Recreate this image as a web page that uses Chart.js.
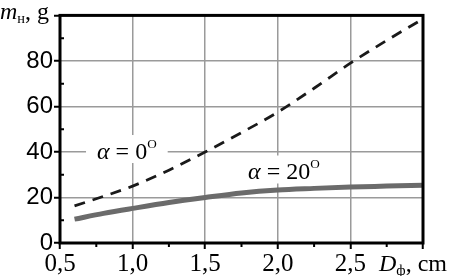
<!DOCTYPE html>
<html lang="en">
<head>
<meta charset="utf-8">
<title>m vs D</title>
<script src="https://cdn.jsdelivr.net/npm/chart.js"></script>
<style>
  body { margin: 0; background: #fff; }
</style>
</head>
<body>
<canvas id="myChart" width="453" height="276"></canvas>
<script>
// data
const diameters = [0.6, 0.8, 1.0, 1.25, 1.5, 1.75, 2.0, 2.25, 2.5, 2.75, 3.0];
const mass0 = [16.3, 20.5, 25, 32, 40, 48.5, 57.5, 68, 79, 89, 98.5];    // alpha = 0
const mass20 = [10.5, 13, 15.2, 17.8, 20, 22, 23.3, 24, 24.6, 25, 25.4]; // alpha = 20
const xTicks = [0.5, 1.0, 1.5, 2.0, 2.5, 3.0];
const yTicks = [0, 20, 40, 60, 80, 100];
const xMinor = [0.75, 1.25, 1.75, 2.25, 2.75];
const yMinor = [10, 30, 50, 70, 90];

const serif = '"Liberation Serif", "Times New Roman", serif';
const sans = '"Liberation Sans", Arial, sans-serif';

// draws text parts [text, italic, kind] left to right
function drawParts(ctx, parts, x, y, size) {
  parts.forEach(p => {
    let s = size, dy = 0;
    if (p[2] === 'sub') { s = size * 0.6; dy = 4; }
    if (p[2] === 'sup') { s = size * 0.55; dy = -11; }
    ctx.font = (p[1] ? 'italic ' : '') + s + 'px ' + serif;
    ctx.fillText(p[0], x, y + dy);
    x += ctx.measureText(p[0]).width;
  });
  return x;
}

const extras = {
  id: 'extras',
  afterDatasetsDraw(chart) {
    const ctx = chart.ctx, xs = chart.scales.x, ys = chart.scales.y;
    ctx.save();
    ctx.fillStyle = '#000';
    ctx.textBaseline = 'alphabetic';
    ctx.textAlign = 'left';
    // curve labels on white boxes
    const labels = [
      { x: 0.755, y: 36.9, parts: [['\u03b1', true], [' = 0'], ['O', false, 'sup']] },
      { x: 1.795, y: 27.9, parts: [['\u03b1', true], [' = 20'], ['O', false, 'sup']] }
    ];
    labels.forEach(l => {
      const px = xs.getPixelForValue(l.x), py = ys.getPixelForValue(l.y);
      ctx.fillStyle = '#fff';
      ctx.globalAlpha = 0;
      const end = drawParts(ctx, l.parts, px, py, 24);
      ctx.globalAlpha = 1;
      ctx.fillRect(px - 11, py - 24, end - px + 22, 28);
      ctx.fillStyle = '#000';
      drawParts(ctx, l.parts, px, py, 24);
    });
    ctx.restore();
  },
  afterDraw(chart) {
    const ctx = chart.ctx, a = chart.chartArea, xs = chart.scales.x, ys = chart.scales.y;
    ctx.save();
    // frame
    ctx.strokeStyle = '#000';
    ctx.lineWidth = 3;
    ctx.strokeRect(a.left, a.top, a.right - a.left, a.bottom - a.top);
    // minor ticks
    ctx.lineWidth = 2;
    ctx.beginPath();
    yMinor.forEach(v => {
      const py = ys.getPixelForValue(v);
      ctx.moveTo(a.left, py); ctx.lineTo(a.left + 4, py);
    });
    xMinor.forEach(v => {
      const px = xs.getPixelForValue(v);
      ctx.moveTo(px, a.bottom); ctx.lineTo(px, a.bottom + 4);
    });
    ctx.stroke();
    // axis titles
    ctx.fillStyle = '#000';
    ctx.textAlign = 'left';
    drawParts(ctx, [['m', true], ['\u043d', false, 'sub'], [', g']], 0, 19, 24);
    drawParts(ctx, [['D', true], ['\u0444', false, 'sub'], [', cm']], 379, 271, 24);
    ctx.restore();
  }
};

const gridColor = c => (c.tick.value === c.scale.min || c.tick.value === c.scale.max) ? 'rgba(0,0,0,0)' : '#9a9a9a';

new Chart(document.getElementById('myChart'), {
  type: 'line',
  data: {
    datasets: [{
      label: 'alpha = 0',
      data: diameters.map((d, i) => ({ x: d, y: mass0[i] })),
      borderColor: '#1a1a1a',
      borderWidth: 2.8,
      borderDash: [11, 8],
      pointRadius: 0,
      cubicInterpolationMode: 'monotone',
      fill: false
    }, {
      label: 'alpha = 20',
      data: diameters.map((d, i) => ({ x: d, y: mass20[i] })),
      borderColor: '#6b6b6b',
      borderWidth: 5,
      pointRadius: 0,
      cubicInterpolationMode: 'monotone',
      fill: false
    }]
  },
  options: {
    responsive: false,
    animation: false,
    layout: { padding: { top: 9, right: 30, left: 0, bottom: 0 } },
    plugins: { legend: { display: false }, tooltip: { enabled: false } },
    scales: {
      x: {
        type: 'linear',
        min: 0.5, max: 3.0,
        afterBuildTicks: s => { s.ticks = xTicks.map(v => ({ value: v })); },
        afterFit: s => { s.height = 33; },
        border: { display: false },
        grid: { color: gridColor, lineWidth: 1.5, tickColor: '#000', tickLength: 6, tickWidth: 2 },
        ticks: {
          color: '#000',
          padding: 0,
          maxRotation: 0,
          font: { family: serif, size: 25 },
          callback: v => v === 3 ? '' : v.toFixed(1).replace('.', ',')
        }
      },
      y: {
        min: 0, max: 100,
        afterBuildTicks: s => { s.ticks = yTicks.map(v => ({ value: v })); },
        afterFit: s => { s.width = 60; },
        border: { display: false },
        grid: { color: gridColor, lineWidth: 1.5, tickColor: '#000', tickLength: 6, tickWidth: 2 },
        ticks: {
          color: '#000',
          padding: 1,
          font: { family: sans, size: 24 },
          callback: v => v === 100 ? '' : v
        }
      }
    }
  },
  plugins: [extras]
});
</script>
</body>
</html>
